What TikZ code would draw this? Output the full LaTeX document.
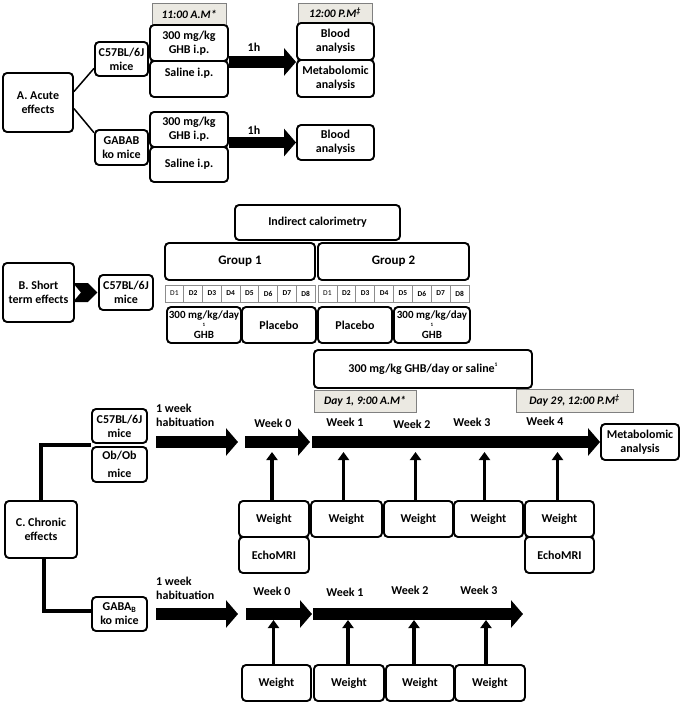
\documentclass[tikz,border=0pt]{standalone}
\usepackage{fontspec}
\setmainfont{Carlito}
\usetikzlibrary{arrows.meta,calc}
\definecolor{labelgray}{RGB}{235,233,226}
\newcommand\mainf{\bfseries\fontsize{12}{14}\selectfont}
\newcommand\bx[7][]{\node[box,#1,minimum width={(#5-#3)*1pt},minimum height={(#6-#4)*1pt}] (#2) at ({(#3+#5)/2},{(#4+#6)/2}) {#7};}
\tikzset{
 box/.style={draw, fill=white, rounded corners=4pt, line width=1.9pt, align=center, inner sep=1pt, font=\mainf},
 tlabel/.style={draw=black!50, fill=labelgray, line width=0.8pt, rounded corners=0pt, font=\bfseries\itshape\fontsize{11.5}{13}\selectfont},
 dcell/.style={draw=black!45, line width=0.7pt, fill=white, rounded corners=0pt, inner sep=0pt, font=\bfseries\fontsize{7.5}{8}\selectfont},
 blockarrow/.style={line width=11.5pt, -{Triangle[length=12pt,width=27pt]}},
 uparrow/.style={line width=3.5pt, -{Triangle[length=8pt,width=11pt]}},
 elbow/.style={line width=4.5pt},
 link/.style={line width=1.5pt},
 lbl/.style={font=\mainf, inner sep=0pt, align=center},
}
\begin{document}
\begin{tikzpicture}[x=1pt,y=-1pt]
\useasboundingbox (0,0) rectangle (680,703);
% ---------------- A. Acute effects
\bx[tlabel]{t11}{152}{3}{226}{25}{11:00 A.M*}
\bx[tlabel]{t12}{298}{3}{372}{23}{12:00 P.M\textsuperscript{‡}}
\bx{acute}{3}{73}{73}{132}{A. Acute\\effects}
\bx{c57a}{95}{42}{148}{76}{C57BL/6J\\mice}
\bx{gababa}{95}{130}{148}{165}{GABAB\\ko mice}
\bx{ghba}{150}{25}{228}{61}{300 mg/kg\\GHB i.p.}
\bx{sala}{150}{61}{228}{97}{Saline i.p.\\\mbox{}}
\bx{blooda}{297}{23}{374}{60}{Blood\\analysis}
\bx{metaba}{297}{60}{374}{97}{Metabolomic\\analysis}
\bx{ghbb}{150}{112}{228}{147}{300 mg/kg\\GHB i.p.}
\bx{salb}{150}{147}{228}{182}{Saline i.p.}
\bx{bloodb}{297}{125}{374}{160}{Blood\\analysis}
\draw[link] ($(acute.north east)!0.32!(acute.south east)$) -- ($(c57a.north west)!0.76!(c57a.south west)$);
\draw[link] ($(acute.north east)!0.6!(acute.south east)$) -- ($(gababa.north west)!0.1!(gababa.south west)$);
\draw[blockarrow] (ghba.south east) -- (ghba.south east -| blooda.west);
\draw[blockarrow] (ghbb.east |- bloodb.west) -- (bloodb.west);
\node[lbl] (h1a) at (254,47) {1h};
\node[lbl] (h1b) at (254,130) {1h};
% ---------------- B. Short term effects
\bx{indirect}{235}{205}{400}{240}{Indirect calorimetry}
\bx[font=\bfseries\fontsize{13}{15}\selectfont]{group1}{165}{243}{315}{280}{Group 1}
\bx[font=\bfseries\fontsize{13}{15}\selectfont]{group2}{318}{243}{469}{280}{Group 2}
\foreach \i in {1,...,8} {
  \node[dcell, minimum width=18.75pt, minimum height=17pt] (ga\i) at ({165+18.75*(\i-0.5)},293.5) {\ifnum\i=1 \mdseries\fi D\i};
  \node[dcell, minimum width=18.875pt, minimum height=17pt] (gb\i) at ({318+18.875*(\i-0.5)},293.5) {\ifnum\i=1 \mdseries\fi D\i};
}
\bx[font=\bfseries\fontsize{11}{20}\selectfont]{trt1}{167}{307}{241}{343}{300 mg/kg/day\\GHB}
\bx{trt2}{242}{307}{316}{343}{Placebo}
\bx{trt3}{318}{307}{392}{343}{Placebo}
\bx[font=\bfseries\fontsize{11}{20}\selectfont]{trt4}{394}{307}{470}{343}{300 mg/kg/day\\GHB}
\node[font=\bfseries\fontsize{5}{5}\selectfont, inner sep=0pt] (sup1) at (trt1.center) {1};
\node[font=\bfseries\fontsize{5}{5}\selectfont, inner sep=0pt] (sup2) at (trt4.center) {1};
\bx{shortb}{3}{263}{74}{322}{B. Short\\term effects}
\bx{c57b}{99}{275}{153}{310}{C57BL/6J\\mice}
\fill (shortb.east) ++(-2,-9.5) -- ++(15,0) -- ++(9.5,9.5) -- ++(-9.5,9.5) -- ++(-15,0) -- ++(8,-9.5) -- cycle;
% ---------------- C. Chronic effects
\bx{dose}{314}{350}{532}{388}{300 mg/kg GHB/day or saline\raisebox{6pt}{\fontsize{5.5}{5.5}\selectfont 1}}
\bx[tlabel]{day1}{314}{390}{416}{412}{Day 1, 9:00 A.M*}
\bx[tlabel]{day29}{516}{389}{633}{412}{Day 29, 12:00 P.M\textsuperscript{‡}}
\bx{c57c}{92}{409}{147}{443}{C57BL/6J\\mice}
\bx[font=\bfseries\fontsize{12}{18}\selectfont]{obob}{92}{447}{147}{482}{Ob/Ob\\mice}
\bx{chronic}{5}{501}{77}{558}{C. Chronic\\effects}
\bx{gababc}{92}{597}{147}{631}{GABA\textsubscript{B}\\ko mice}
\draw[elbow] (chronic.north) |- ($(c57c.south west)!0.5!(obob.north west)$);
\draw[elbow] ([xshift=3pt]chronic.south) |- ([yshift=3pt]gababc.west);
\bx{metabc}{601}{424}{679}{460}{Metabolomic\\analysis}
% upper timeline
\coordinate (ha1) at (156,442);
\coordinate (hb1) at (238,442);
\coordinate (wa0) at (245,442);
\coordinate (wb0) at (310,442);
\coordinate (wa1) at (312,442);
\draw[blockarrow] (ha1) -- (hb1);
\draw[blockarrow] (wa0) -- (wb0);
\draw[blockarrow] (wa1) -- (metabc.west);
\node[lbl, align=left, anchor=north west] (hab1) at (156,404) {1 week\\habituation};
\node[lbl] (wk0a) at (273,423) {Week 0};
\node[lbl] (wk1a) at (345,422) {Week 1};
\node[lbl] (wk2a) at (412,424) {Week 2};
\node[lbl] (wk3a) at (472,422) {Week 3};
\node[lbl] (wk4a) at (545,421) {Week 4};
\bx{wu0}{239}{501}{309}{537}{Weight}
\bx{wu1}{311}{501}{382}{537}{Weight}
\bx{wu2}{384}{501}{453}{537}{Weight}
\bx{wu3}{454}{501}{523}{537}{Weight}
\bx{wu4}{525}{501}{594}{537}{Weight}
\bx{eu0}{239}{537}{309}{573}{EchoMRI}
\bx{eu4}{525}{537}{594}{573}{EchoMRI}
\coordinate (toptip) at (0,452);
\foreach \n/\dx in {wu0/-2,wu1/-3,wu2/-3,wu3/-4,wu4/-2}
  \draw[uparrow] ([xshift=\dx pt]\n.north) -- ([xshift=\dx pt]\n.north |- toptip);
% lower timeline
\coordinate (hc1) at (156,614);
\coordinate (hd1) at (238,614);
\coordinate (wc0) at (246,614);
\coordinate (wd0) at (312,614);
\coordinate (wc1) at (313,614);
\coordinate (wd1) at (523,614);
\draw[blockarrow] (hc1) -- (hd1);
\draw[blockarrow] (wc0) -- (wd0);
\draw[blockarrow] (wc1) -- (wd1);
\node[lbl, align=left, anchor=north west] (hab2) at (156,577) {1 week\\habituation};
\node[lbl] (wk0b) at (272,591) {Week 0};
\node[lbl] (wk1b) at (345,592) {Week 1};
\node[lbl] (wk2b) at (410,590) {Week 2};
\node[lbl] (wk3b) at (479,590) {Week 3};
\bx{wl0}{242}{665}{311}{701}{Weight}
\bx{wl1}{314}{665}{384}{701}{Weight}
\bx{wl2}{386}{665}{454}{701}{Weight}
\bx{wl3}{455}{665}{525}{701}{Weight}
\coordinate (lowtip) at (0,620);
\foreach \n/\dx in {wl0/-3,wl1/-1,wl2/-6,wl3/-4}
  \draw[uparrow] ([xshift=\dx pt]\n.north) -- ([xshift=\dx pt]\n.north |- lowtip);
\end{tikzpicture}
\end{document}
